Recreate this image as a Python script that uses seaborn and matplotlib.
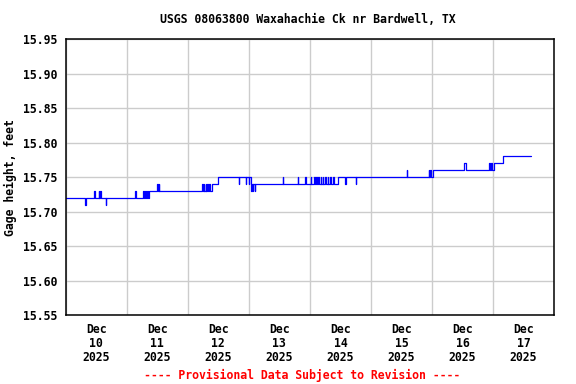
import numpy as np
import pandas as pd
import matplotlib
matplotlib.use("Agg")
import matplotlib.pyplot as plt
import seaborn as sns

# change points of the 15-min gage height record (value holds until next time)
times = [
    "2025-12-09 12:00", "2025-12-09 19:45", "2025-12-09 20:00", "2025-12-09 23:15", "2025-12-09 23:30",
    "2025-12-10 01:00", "2025-12-10 01:15", "2025-12-10 01:30", "2025-12-10 01:45",
    "2025-12-10 03:45", "2025-12-10 04:00", "2025-12-10 15:15", "2025-12-10 15:30",
    "2025-12-10 18:30", "2025-12-10 18:45", "2025-12-10 19:15", "2025-12-10 19:30",
    "2025-12-10 20:00", "2025-12-10 20:15", "2025-12-10 20:45",
    "2025-12-11 00:00", "2025-12-11 00:15", "2025-12-11 00:30", "2025-12-11 00:45",
    "2025-12-11 17:45", "2025-12-11 18:00", "2025-12-11 18:15", "2025-12-11 18:30",
    "2025-12-11 19:00", "2025-12-11 19:15", "2025-12-11 19:45", "2025-12-11 20:00",
    "2025-12-11 20:30", "2025-12-11 20:45", "2025-12-11 21:30",
    "2025-12-12 00:00", "2025-12-12 08:00", "2025-12-12 08:15", "2025-12-12 10:45", "2025-12-12 11:00",
    "2025-12-12 12:00", "2025-12-12 12:15", "2025-12-12 12:45", "2025-12-12 13:00", "2025-12-12 13:15",
    "2025-12-12 13:30", "2025-12-12 13:45", "2025-12-12 14:15", "2025-12-12 14:30",
    "2025-12-13 01:15", "2025-12-13 01:30", "2025-12-13 07:15", "2025-12-13 07:30",
    "2025-12-13 10:15", "2025-12-13 10:30", "2025-12-13 12:15", "2025-12-13 12:30",
    "2025-12-13 13:30", "2025-12-13 14:00", "2025-12-13 14:30", "2025-12-13 14:45",
    "2025-12-13 15:15", "2025-12-13 15:30", "2025-12-13 16:15", "2025-12-13 16:30",
    "2025-12-13 17:00", "2025-12-13 17:15", "2025-12-13 18:00", "2025-12-13 18:15",
    "2025-12-13 19:00", "2025-12-13 19:15", "2025-12-13 20:00", "2025-12-13 20:15",
    "2025-12-13 21:15", "2025-12-13 21:30", "2025-12-13 23:00",
    "2025-12-14 01:45", "2025-12-14 02:00", "2025-12-14 06:00", "2025-12-14 06:15",
    "2025-12-15 02:00", "2025-12-15 02:15", "2025-12-15 10:45", "2025-12-15 11:00",
    "2025-12-15 11:15", "2025-12-15 11:30", "2025-12-15 12:30",
    "2025-12-16 00:45", "2025-12-16 01:30", "2025-12-16 10:30", "2025-12-16 10:45",
    "2025-12-16 11:15", "2025-12-16 11:30", "2025-12-16 12:30", "2025-12-16 16:00",
    "2025-12-17 02:45",
]
heights = [
    15.72, 15.71, 15.72, 15.73, 15.72,
    15.73, 15.72, 15.73, 15.72,
    15.71, 15.72, 15.73, 15.72,
    15.73, 15.72, 15.73, 15.72,
    15.73, 15.72, 15.73,
    15.74, 15.73, 15.74, 15.73,
    15.74, 15.73, 15.74, 15.73,
    15.74, 15.73, 15.74, 15.73,
    15.74, 15.73, 15.74,
    15.75, 15.74, 15.75, 15.74, 15.75,
    15.74, 15.75, 15.74, 15.73, 15.74,
    15.73, 15.74, 15.73, 15.74,
    15.75, 15.74, 15.75, 15.74,
    15.75, 15.74, 15.75, 15.74,
    15.75, 15.74, 15.75, 15.74,
    15.75, 15.74, 15.75, 15.74,
    15.75, 15.74, 15.75, 15.74,
    15.75, 15.74, 15.75, 15.74,
    15.75, 15.74, 15.75,
    15.74, 15.75, 15.74, 15.75,
    15.76, 15.75, 15.76, 15.75,
    15.76, 15.75, 15.76,
    15.77, 15.76, 15.77, 15.76,
    15.77, 15.76, 15.77, 15.78,
    15.78,
]
day_labels = ["Dec\n10\n2025", "Dec\n11\n2025", "Dec\n12\n2025", "Dec\n13\n2025",
              "Dec\n14\n2025", "Dec\n15\n2025", "Dec\n16\n2025", "Dec\n17\n2025"]
y_ticks = [15.55, 15.60, 15.65, 15.70, 15.75, 15.80, 15.85, 15.90, 15.95]

df = pd.DataFrame({"time": pd.to_datetime(times), "height": heights})

sns.set_style("white")
plt.rcParams["font.family"] = ["DejaVu Sans Mono"]
plt.rcParams["font.weight"] = "bold"
plt.rcParams["text.color"] = "black"

fig = plt.figure(figsize=(5.76, 3.84), dpi=100)
ax = fig.add_axes([0.114, 0.1797, 0.848, 0.718])

sns.lineplot(data=df, x="time", y="height", color="#0000ff", linewidth=0.9,
             drawstyle="steps-post", estimator=None, ax=ax)

ax.set_xlim(pd.Timestamp("2025-12-09 12:00"), pd.Timestamp("2025-12-17 12:00"))
ax.set_ylim(15.55, 15.95)

days = pd.date_range("2025-12-10", periods=8, freq="D")
ax.set_xticks(days)
ax.set_xticklabels(day_labels, fontsize=8.3, fontweight="bold", linespacing=1.1)
ax.set_xticks(days - pd.Timedelta(hours=12), minor=True)
ax.set_yticks(y_ticks)
ax.set_yticklabels([f"{v:.2f}" for v in y_ticks], fontsize=8.3, fontweight="bold")
ax.tick_params(axis="both", which="both", length=0, pad=6, labelcolor="black")

ax.grid(False)
ax.grid(True, axis="y", which="major", color="#cccccc", linewidth=1)
ax.grid(True, axis="x", which="minor", color="#cccccc", linewidth=1)
ax.set_axisbelow(True)
for s in ax.spines.values():
    s.set_color("black")
    s.set_linewidth(1.1)

ax.set_xlabel("")
ax.set_ylabel("Gage height, feet", fontsize=8.3, fontweight="bold", labelpad=4, color="black")
fig.text(0.535, 0.948, "USGS 08063800 Waxahachie Ck nr Bardwell, TX",
         ha="center", va="center", fontsize=8.3, fontweight="bold")
fig.text(0.525, 0.022, "---- Provisional Data Subject to Revision ----",
         ha="center", va="center", fontsize=8.3, fontweight="bold", color="red")

fig.savefig("out.png", dpi=100)
